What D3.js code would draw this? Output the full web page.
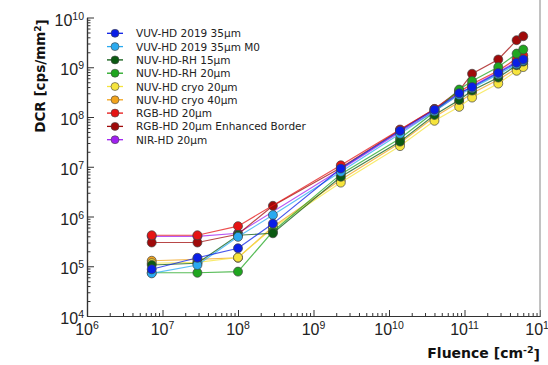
<!DOCTYPE html>
<html><head><meta charset="utf-8">
<script src="https://cdn.jsdelivr.net/npm/d3@7"></script>
<style>
html,body{margin:0;padding:0;background:#fff;}
svg{display:block;}
</style></head>
<body><svg id="chart" width="548" height="365"></svg>
<script>
// ---- data ----
const fluence = [7.2e6, 2.9e7, 1.0e8, 2.9e8, 2.3e9, 1.4e10, 4.0e10, 8.5e10, 1.26e11, 2.8e11, 4.9e11, 6.0e11];
const seriesNames = ["VUV-HD 2019 35µm","VUV-HD 2019 35µm M0","NUV-HD-RH 15µm","NUV-HD-RH 20µm","NUV-HD cryo 20µm","NUV-HD cryo 40µm","RGB-HD 20µm","RGB-HD 20µm Enhanced Border","NIR-HD 20µm"];
const seriesColors = ["#0a1ee6","#2aaaf0","#0b5a12","#1fa61f","#f6e43c","#f2a31c","#e61414","#a00a0a","#a020f0"];
const vuv35   = [8.7e4, 1.48e5, 2.3e5, 7.2e5, 9.2e6, 5.3e7, 1.4e8, 3.0e8, 4.0e8, 7.7e8, 1.23e9, 1.43e9];
const vuv35M0 = [7.2e4, 1.06e5, 3.9e5, 1.07e6, 7.9e6, 4.6e7, 1.3e8, 2.8e8, 3.8e8, 7.2e8, 1.15e9, 1.35e9];
const nuvRH15 = [1.06e5, 1.15e5, 4.2e5, 4.6e5, 6.3e6, 3.2e7, 1.1e8, 2.2e8, 3.4e8, 6.2e8, 1.1e9, 1.3e9];
const nuvRH20 = [7.4e4, 7.4e4, 7.8e4, 5.0e5, 7.1e6, 3.7e7, 1.26e8, 3.56e8, 5.3e8, 1.01e9, 1.88e9, 2.27e9];
const cryo20  = [1.15e5, 1.2e5, 1.5e5, 5.9e5, 4.8e6, 2.6e7, 8.4e7, 1.6e8, 2.46e8, 4.7e8, 8.5e8, 1.01e9];
const cryo40  = [1.29e5, 1.38e5, 1.48e5, 6.2e5, 5.5e6, 3.0e7, 1.0e8, 2.0e8, 3.0e8, 5.6e8, 9.5e8, 1.15e9];
const rgb20   = [4.2e5, 4.2e5, 6.4e5, null, 1.07e7, 5.6e7, 1.45e8, 3.2e8, 4.6e8, 8.5e8, 1.49e9, 1.74e9];
const rgb20EB = [3.0e5, 3.0e5, 4.4e5, 1.64e6, 9.5e6, 5.5e7, 1.45e8, 3.4e8, 7.4e8, 1.43e9, 3.5e9, 4.2e9];
const nir20   = [4.0e5, 4.0e5, 4.6e5, null, 8.8e6, 5.0e7, 1.3e8, 2.9e8, 4.2e8, 8.0e8, 1.3e9, 1.5e9];
const seriesValues = [vuv35, vuv35M0, nuvRH15, nuvRH20, cryo20, cryo40, rgb20, rgb20EB, nir20];
const xTickExps = [6,7,8,9,10,11,12];
const yTickExps = [4,5,6,7,8,9,10];

// ---- layout ----
const svg = d3.select("#chart");
const L = 87, R = 540, T = 17.5, B = 316;
const x = d3.scaleLog().domain([1e6, 1e12]).range([L, R]);
const y = d3.scaleLog().domain([1e4, 1e10]).range([B, T]);
const tickFont = "'Liberation Sans', Arial, sans-serif";
const axisColor = "#333";

// minor ticks
const minorX = [], minorY = [];
for (let e = 6; e < 12; e++) for (let m = 2; m <= 9; m++) minorX.push(m * Math.pow(10, e));
for (let e = 4; e < 10; e++) for (let m = 2; m <= 9; m++) minorY.push(m * Math.pow(10, e));
const majorX = xTickExps.map(e => Math.pow(10, e));
const majorY = yTickExps.map(e => Math.pow(10, e));

function styleAxis(g){
  g.select(".domain").attr("stroke", axisColor).attr("stroke-width", 1.2);
  g.selectAll(".tick line").attr("stroke", axisColor).attr("stroke-width", 1);
  g.selectAll(".tick text").remove();
}
svg.append("g").attr("transform", `translate(0,${B})`)
  .call(d3.axisBottom(x).tickValues(minorX).tickSize(-3).tickSizeOuter(0).tickFormat(""))
  .call(styleAxis);
svg.append("g").attr("transform", `translate(0,${B})`)
  .call(d3.axisBottom(x).tickValues(majorX).tickSize(-6).tickSizeOuter(0).tickFormat(""))
  .call(styleAxis);
svg.append("g").attr("transform", `translate(${L},0)`)
  .call(d3.axisLeft(y).tickValues(minorY).tickSize(-3.5).tickSizeOuter(0).tickFormat(""))
  .call(styleAxis);
svg.append("g").attr("transform", `translate(${L},0)`)
  .call(d3.axisLeft(y).tickValues(majorY).tickSize(-7).tickSizeOuter(0).tickFormat(""))
  .call(styleAxis);

// right frame line
svg.append("line").attr("x1", R).attr("x2", R).attr("y1", 0).attr("y2", B)
  .attr("stroke", "#999").attr("stroke-width", 1.2);

// tick labels with superscript exponents
function powLabel(sel, e){
  sel.append("tspan").text("10");
  sel.append("tspan").attr("dy", "-0.55em").attr("font-size", "10.5px").text(e);
}
xTickExps.forEach(e => {
  const t = svg.append("text").attr("x", x(Math.pow(10, e))).attr("y", B + 19)
    .attr("text-anchor", "middle").attr("font-family", tickFont).attr("font-size", "16px").attr("fill", "#222");
  powLabel(t, e);
});
yTickExps.forEach(e => {
  const t = svg.append("text").attr("x", L - 3).attr("y", y(Math.pow(10, e)) + 8)
    .attr("text-anchor", "end").attr("font-family", tickFont).attr("font-size", "16px").attr("fill", "#222");
  powLabel(t, e);
});

// axis titles
const yt = svg.append("text").attr("transform", "translate(45,76) rotate(-90)")
  .attr("text-anchor", "middle").attr("font-family", "'DejaVu Sans', Verdana, sans-serif")
  .attr("font-weight", "bold").attr("font-size", "13.5px").attr("fill", "#111");
yt.append("tspan").text("DCR [cps/mm");
yt.append("tspan").attr("dy", "-0.5em").attr("font-size", "9px").text("2");
yt.append("tspan").attr("dy", "0.5em").text("]");

const xt = svg.append("text").attr("x", R).attr("y", 358)
  .attr("text-anchor", "end").attr("font-family", "'DejaVu Sans', Verdana, sans-serif")
  .attr("font-weight", "bold").attr("font-size", "14px").attr("fill", "#111");
xt.append("tspan").text("Fluence [cm");
xt.append("tspan").attr("dy", "-0.5em").attr("font-size", "9.5px").text("-2");
xt.append("tspan").attr("dy", "0.5em").text("]");

// ---- series ----
const line = d3.line().defined(d => d.v != null).x(d => x(d.f)).y(d => y(d.v));
const order = d3.range(seriesNames.length).reverse();
order.forEach(i => {
  const pts = fluence.map((f, j) => ({f, v: seriesValues[i][j]}));
  const g = svg.append("g");
  g.append("path").datum(pts.filter(d => d.v != null)).attr("d", line)
    .attr("fill", "none").attr("stroke", seriesColors[i]).attr("stroke-width", 1.2).attr("stroke-opacity", 0.75);
  g.selectAll("circle").data(pts.filter(d => d.v != null)).join("circle")
    .attr("cx", d => x(d.f)).attr("cy", d => y(d.v)).attr("r", 4.5)
    .attr("fill", seriesColors[i]).attr("stroke", "#444").attr("stroke-width", 0.7);
});

// ---- legend ----
const lg = svg.append("g");
seriesNames.forEach((n, i) => {
  const yy = 33.3 + i * 13.3;
  lg.append("line").attr("x1", 107).attr("x2", 123).attr("y1", yy).attr("y2", yy)
    .attr("stroke", seriesColors[i]).attr("stroke-width", 1.3);
  lg.append("circle").attr("cx", 115).attr("cy", yy).attr("r", 4)
    .attr("fill", seriesColors[i]).attr("stroke", "#444").attr("stroke-width", 0.6);
  lg.append("text").attr("x", 136).attr("y", yy + 4).attr("font-family", "'DejaVu Sans', Verdana, sans-serif")
    .attr("font-size", "10.5px").attr("fill", "#222").text(n);
});
</script>
</body></html>
